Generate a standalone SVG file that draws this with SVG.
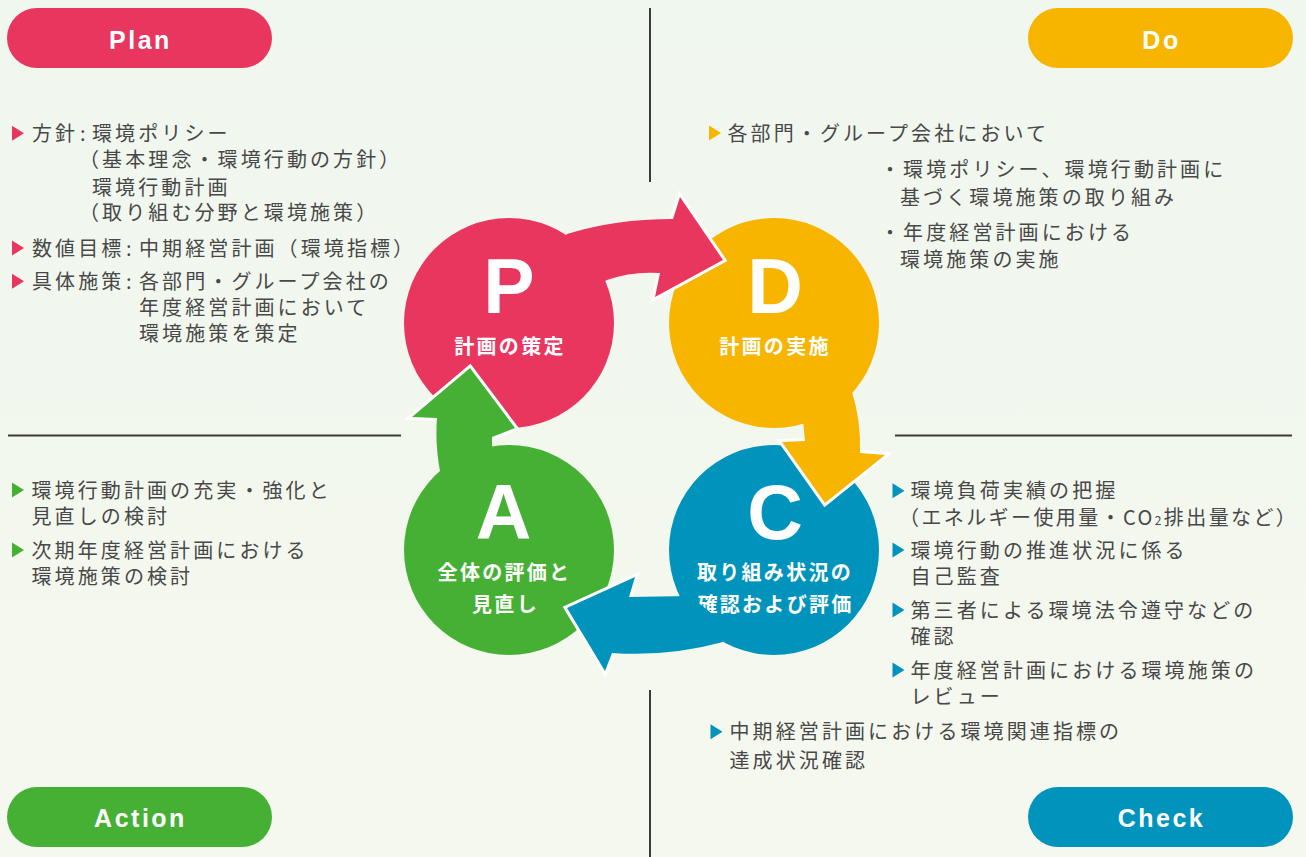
<svg xmlns="http://www.w3.org/2000/svg" width="1306" height="857" viewBox="0 0 1306 857">
<defs>
<linearGradient id="bg" x1="0" y1="0" x2="0" y2="1">
<stop offset="0" stop-color="#f0f7ee"/>
<stop offset="1" stop-color="#f5f8ef"/>
</linearGradient>
<path id="tri" d="M0 -7.5 L12 0 L0 7.5 Z"/>
<style>
.t{font-family:"Noto Sans CJK JP","Noto Sans",sans-serif;font-size:20px;fill:#484848;letter-spacing:3.1px}
.pill{font-family:"Liberation Sans",Arial,sans-serif;font-size:25px;font-weight:bold;fill:#ffffff;letter-spacing:2.5px;text-anchor:middle}
.big{font-family:"Liberation Sans",Arial,sans-serif;font-size:77px;font-weight:bold;fill:#ffffff;text-anchor:middle}
.sub{font-family:"Noto Sans CJK JP","Noto Sans",sans-serif;font-size:20px;font-weight:bold;fill:#ffffff;letter-spacing:2.3px;text-anchor:middle}
.ln{stroke:#3e3a39;stroke-width:2;fill:none}
.ol{fill:none;stroke:#ffffff;stroke-width:6;stroke-linejoin:miter}
.pink{fill:#e8365f}.yel{fill:#f7b500}.grn{fill:#46b035}.blu{fill:#0094bc}
</style>
</defs>
<rect width="1306" height="857" fill="url(#bg)"/>

<g id="dividers">
<line class="ln" x1="650" y1="8" x2="650" y2="182"/>
<line class="ln" x1="650" y1="690" x2="650" y2="857"/>
<line class="ln" x1="8" y1="435.5" x2="401" y2="435.5"/>
<line class="ln" x1="895" y1="435.5" x2="1292" y2="435.5"/>
</g>

<g id="label-plan">
<rect class="pink" x="7" y="8" width="265" height="60" rx="30"/>
<text class="pill" x="140.5" y="48.5">Plan</text>
</g>
<g id="label-do">
<rect class="yel" x="1028" y="8" width="265" height="60" rx="30"/>
<text class="pill" x="1161.5" y="48.5">Do</text>
</g>
<g id="label-action">
<rect class="grn" x="7" y="787" width="265" height="60" rx="30"/>
<text class="pill" x="140.5" y="827">Action</text>
</g>
<g id="label-check">
<rect class="blu" x="1028" y="787" width="265" height="60" rx="30"/>
<text class="pill" x="1161.5" y="827">Check</text>
</g>

<g id="text-plan">
<use href="#tri" x="12" y="133.3" class="pink"/>
<use href="#tri" x="12" y="248" class="pink"/>
<use href="#tri" x="12" y="281.3" class="pink"/>
<text class="t" y="141"><tspan x="32">方針</tspan><tspan x="80">:</tspan><tspan x="92">環境ポリシー</tspan></text>
<text class="t" x="79" y="167">（基本理念・環境行動の方針）</text>
<text class="t" x="92" y="194.5">環境行動計画</text>
<text class="t" x="79" y="219.5">（取り組む分野と環境施策）</text>
<text class="t" y="255.5"><tspan x="32">数値目標</tspan><tspan x="126">:</tspan><tspan x="139">中期経営計画（環境指標）</tspan></text>
<text class="t" y="289"><tspan x="32">具体施策</tspan><tspan x="126">:</tspan><tspan x="139">各部門・グループ会社の</tspan></text>
<text class="t" x="139" y="315">年度経営計画において</text>
<text class="t" x="139" y="341">環境施策を策定</text>
</g>

<g id="text-do">
<use href="#tri" x="709" y="133" class="yel"/>
<text class="t" x="727.5" y="141">各部門・グループ会社において</text>
<text class="t" x="880" y="177">・環境ポリシー、環境行動計画に</text>
<text class="t" x="900" y="205">基づく環境施策の取り組み</text>
<text class="t" x="880" y="239.5">・年度経営計画における</text>
<text class="t" x="900" y="267">環境施策の実施</text>
</g>

<g id="text-action">
<use href="#tri" x="12" y="490" class="grn"/>
<use href="#tri" x="12" y="550" class="grn"/>
<text class="t" x="31.5" y="497.5">環境行動計画の充実・強化と</text>
<text class="t" x="31.5" y="524">見直しの検討</text>
<text class="t" x="31.5" y="557.5">次期年度経営計画における</text>
<text class="t" x="31.5" y="584">環境施策の検討</text>
</g>

<g id="text-check">
<use href="#tri" x="892.5" y="490.7" class="blu"/>
<use href="#tri" x="892.5" y="550" class="blu"/>
<use href="#tri" x="892.5" y="610" class="blu"/>
<use href="#tri" x="892.5" y="670" class="blu"/>
<use href="#tri" x="710.5" y="731.7" class="blu"/>
<text class="t" x="910.5" y="497.5">環境負荷実績の把握</text>
<text class="t" x="899" y="524.5" style="letter-spacing:2.4px">（エネルギー使用量・CO<tspan font-size="12">2</tspan>排出量など）</text>
<text class="t" x="910.5" y="557.5">環境行動の推進状況に係る</text>
<text class="t" x="910.5" y="584">自己監査</text>
<text class="t" x="910.5" y="617.5">第三者による環境法令遵守などの</text>
<text class="t" x="910.5" y="644">確認</text>
<text class="t" x="910.5" y="677.5">年度経営計画における環境施策の</text>
<text class="t" x="910.5" y="704">レビュー</text>
<text class="t" x="729.5" y="739">中期経営計画における環境関連指標の</text>
<text class="t" x="729.5" y="767.5">達成状況確認</text>
</g>

<g id="node-P">
<circle class="pink" cx="509" cy="323" r="105"/>
<text class="big" x="509" y="313">P</text>
<text class="sub" x="510" y="353.5">計画の策定</text>
</g>
<g id="node-D">
<circle class="yel" cx="774" cy="323" r="105"/>
<text class="big" x="775" y="313">D</text>
<text class="sub" x="775" y="353.5">計画の実施</text>
</g>
<g id="node-A">
<circle class="grn" cx="509" cy="550" r="105"/>
<text class="big" x="503.5" y="539">A</text>
<text class="sub" x="504.5" y="579.5">全体の評価と</text>
<text class="sub" x="505.5" y="611.5">見直し</text>
</g>
<g id="node-C">
<circle class="blu" cx="774" cy="550" r="105"/>
<text class="big" x="775" y="539">C</text>
<text class="sub" x="775" y="579.5">取り組み状況の</text>
<text class="sub" x="775.5" y="611.5">確認および評価</text>
</g>

<g id="connectors">
<g id="arrow-P-D">
<path class="ol" d="M673 219 L680 197 L723 260 L655 297 L660 273"/>
<path class="pink" d="M552 252 L567 234 Q615 219 673 219 L680 197 L723 260 L655 297 L660 273 Q632 271 607 280 L590 290 Z"/>
</g>
<g id="arrow-D-C">
<path class="ol" d="M805 441 L782 442 L825 503 L885 455 L860 453"/>
<path class="yel" d="M790 415 L852 392 Q861 420 860 453 L885 455 L825 503 L782 442 L805 441 L803 420 Z"/>
</g>
<g id="arrow-C-A">
<path class="ol" d="M612 653 L605 671 L567 608 L635 577 L629 597"/>
<path class="blu" d="M723 642 Q668 657 612 653 L605 671 L567 608 L635 577 L629 597 L690 596 L720 620 Z"/>
</g>
<g id="arrow-A-P">
<path class="ol" d="M437 418 L412 417 L470 368 L515 428 L492 437"/>
<path class="grn" d="M440 471 Q435 445 437 418 L412 417 L470 368 L515 428 L492 437 L492 455 L470 480 Z"/>
</g>
</g>
</svg>
